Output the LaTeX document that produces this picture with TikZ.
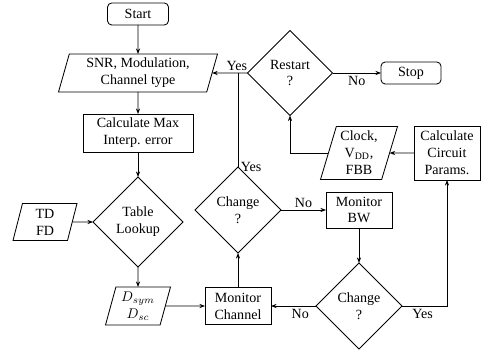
\documentclass[tikz,border=0pt]{standalone}
\usepackage{fontspec}
\setmainfont{Liberation Serif}
\usetikzlibrary{shapes.geometric,arrows.meta}
\begin{document}
\begin{tikzpicture}[inner sep=0pt,outer sep=0pt,semithick,>={Stealth[length=4pt,width=3pt]},
procblock/.style={draw,rectangle,align=center,minimum width=1.65cm,minimum height=0.925cm},
termblock/.style={draw,rectangle,rounded corners=3pt,minimum width=1.5cm,minimum height=0.55cm},
ioblock/.style={draw,trapezium,trapezium left angle=70,trapezium right angle=110,trapezium stretches body,align=center,minimum height=0.95cm},
decision/.style={draw,diamond,aspect=1,align=center,minimum width=2.15cm,minimum height=2.15cm}]
\useasboundingbox (0,0) rectangle (12.275,8.75);
% left column
\draw (3.45,8.4) node[termblock,minimum width=1.525cm] (start) {Start};
\draw (3.45,6.925) node[ioblock,minimum width=3.975cm] (snr) {SNR, Modulation,\\Channel type};
\draw (3.45,5.425) node[procblock,minimum width=2.75cm,minimum height=0.95cm] (maxerr) {Calculate Max\\Interp. error};
\draw (3.45,3.2) node[decision,minimum width=2.25cm,minimum height=2.25cm] (lookup) {Table\\Lookup};
\draw (1.125,3.2) node[ioblock,minimum width=1.6cm,minimum height=0.925cm] (tdfd) {TD\\FD};
\draw (3.45,1.1) node[ioblock,minimum width=1.625cm] (dsym) {$D_{sym}$\\$D_{sc}$};
% monitoring loop
\draw (5.95,1.1) node[procblock] (monch) {Monitor\\Channel};
\draw (5.95,3.5) node[decision] (chg1) {Change\\?};
\draw (8.975,3.5) node[procblock,minimum height=0.9cm] (monbw) {Monitor\\BW};
\draw (8.975,1.1) node[decision] (chg2) {Change\\?};
\draw (11.175,4.925) node[procblock,minimum height=1.35cm] (circ) {Calculate\\Circuit\\Params.};
\draw (8.975,4.925) node[ioblock,minimum width=1.925cm,minimum height=1.325cm] (clock) {Clock,\\V$_{\mathrm{DD}}$,\\FBB};
\draw (7.25,6.925) node[decision,minimum width=2.125cm,minimum height=2.125cm] (restart) {Restart\\?};
\draw (10.275,6.925) node[termblock] (stop) {Stop};
% connectors
\draw[->] (start) -- (snr);
\draw[->] (snr) -- (maxerr);
\draw[->] (maxerr) -- (lookup);
\draw[->] (tdfd) -- (lookup);
\draw[->] (lookup) -- (dsym);
\draw[->] (dsym) -- (monch);
\draw[->] (monch) -- (chg1);
\draw (chg1.north) node[right=2pt] {Yes} -- (chg1.north |- restart.west);
\draw[->] (restart.west) -- (snr.east) node[pos=0.3,above=2pt] {Yes};
\draw[->] (chg1) -- (monbw) node[midway,above=2pt] {No};
\draw[->] (monbw) -- (chg2);
\draw[->] (chg2) -- (monch) node[pos=0.35,below=2pt] {No};
\draw[->] (chg2.east) -| (circ.south) node[pos=0.23,below=2pt] {Yes};
\draw[->] (circ) -- (clock);
\draw[->] (clock.west) -| (restart.south);
\draw[->] (restart) -- (stop) node[midway,below=2pt] {No};
\end{tikzpicture}
\end{document}
